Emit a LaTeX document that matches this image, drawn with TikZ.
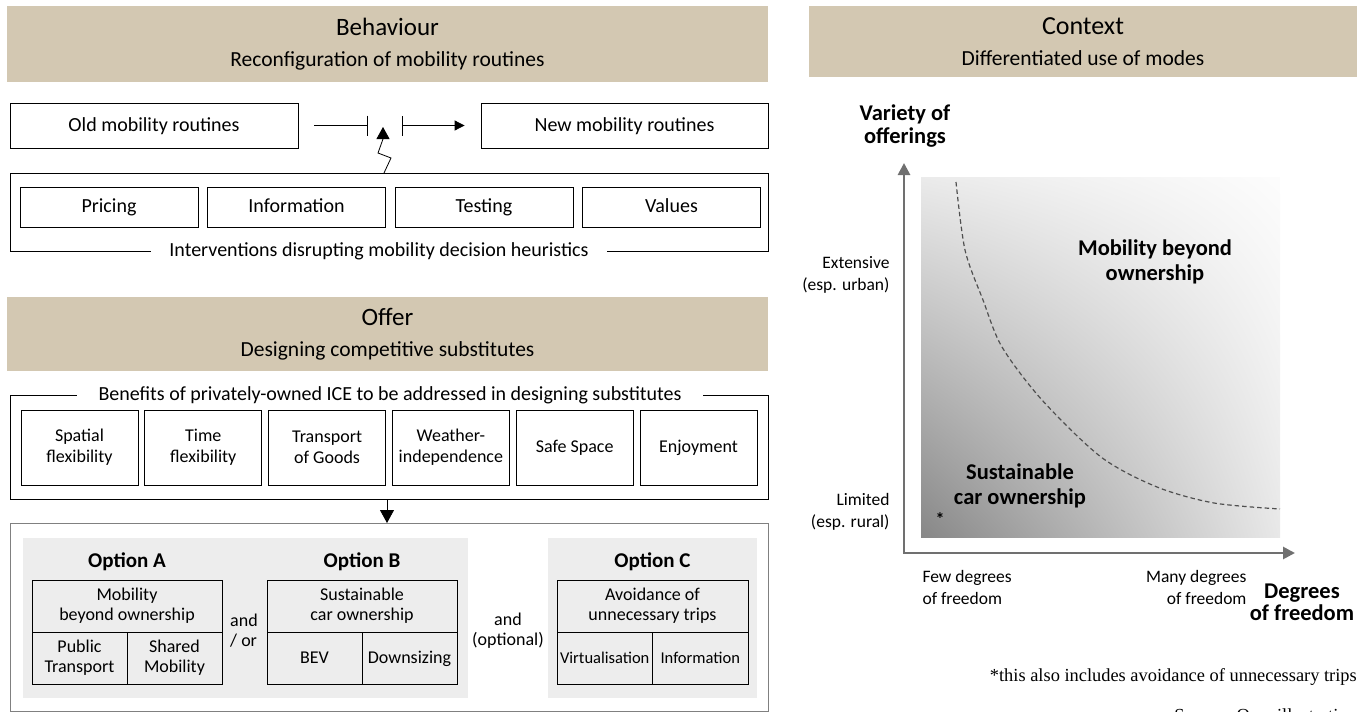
\documentclass[tikz,border=0pt]{standalone}
\usepackage{fontspec}
\setmainfont{Carlito}
\newfontfamily\notefont{Liberation Serif}
\usepackage{xcolor}
\usepackage{tikz}
\usetikzlibrary{calc}
\usetikzlibrary{arrows.meta,positioning,shadings}

\definecolor{headbeige}{HTML}{D3C8B2}
\definecolor{optgray}{HTML}{EDEDED}
\definecolor{axisgray}{HTML}{707070}
\definecolor{curvegray}{HTML}{4F4F4F}

\begin{document}
\begin{tikzpicture}[x=1pt,y=-1pt,
    headbox/.style={fill=headbeige,inner sep=0pt,align=center,font=\fontsize{21.5}{31}\selectfont},
    box/.style={draw,line width=0.8pt,inner sep=0pt,align=center,font=\fontsize{20}{23}\selectfont},
    oneline/.style={text height=13pt,text depth=2pt},
    benefit/.style={box,minimum width=117pt,minimum height=75pt,font=\fontsize{18}{21}\selectfont},
    cell/.style={box,minimum height=52pt,font=\fontsize{18}{20}\selectfont},
    panel/.style={fill=optgray,inner sep=0pt},
    gaplabel/.style={fill=white,inner ysep=2pt,font=\fontsize{20}{23}\selectfont},
    opttitle/.style={font=\bfseries\fontsize{21}{24}\selectfont},
    axislabel/.style={align=right,font=\fontsize{17.5}{22}\selectfont},
    zonelabel/.style={align=center,font=\bfseries\fontsize{22.5}{25}\selectfont},
    axisline/.style={axisgray,line width=2.7pt,{Triangle[length=12pt,width=12pt]}-{Triangle[length=12pt,width=12pt]}}
]
\useasboundingbox (0,0) rectangle (1369,712);

% Behaviour
\node[headbox,minimum width=761pt,minimum height=76pt] (behav) at (387.5,44)
    {{\fontsize{25}{31}\selectfont Behaviour}\\Reconfiguration of mobility routines};
\node[box,oneline,minimum width=288pt,minimum height=45pt] (old) at (154,125.5) {Old mobility routines};
\node[box,oneline,minimum width=287pt,minimum height=45pt] (new) at (624.5,125.5) {New mobility routines};
\coordinate (stopL) at (368,125.5);
\coordinate (stopR) at (402,125.5);
\draw[line width=0.8pt,-{Bar[width=20pt]}] ([xshift=16pt]old.east) -- (stopL);
\draw[line width=0.8pt,{Bar[width=20pt]}-{Triangle[length=10pt,width=10pt]}] (stopR) -- ([xshift=-16pt]new.west);

\node[box,minimum width=758pt,minimum height=78pt] (interv) at (389,212) {};
\node[gaplabel,inner xsep=18pt] (intlbl) at (379,251) {Interventions disrupting mobility decision heuristics};
\foreach \lbl [count=\i] in {Pricing,Information,Testing,Values} {
    \node[box,oneline,minimum width=178pt,minimum height=40pt] (int\i) at ({109+187.5*(\i-1)},207) {\lbl};
}
\coordinate (zig) at (384,173);
\draw[line width=0.8pt,-{Triangle[length=12pt,width=13pt]}] (zig) -- (391,158) -- (378,153) -- (383,139) -- (383,127);

% Offer
\node[headbox,minimum width=761pt,minimum height=74pt] (offer) at (387.5,334)
    {{\fontsize{25}{31}\selectfont Offer}\\Designing competitive substitutes};
\node[box,minimum width=758pt,minimum height=104pt] (benef) at (389,447) {};
\node[gaplabel,inner xsep=22pt] (benlbl) at (390,395)
    {Benefits of privately-owned ICE to be addressed in designing substitutes};
\foreach \lbl [count=\i] in {{Spatial\\flexibility},{Time\\flexibility},{Transport\\of Goods},
        {Weather-\\independence},{Safe Space},{Enjoyment}} {
    \node[benefit] (ben\i) at ({79.5+123.8*(\i-1)},447.5) {\lbl};
}

% Options
\node[draw=black!50,line width=0.8pt,minimum width=758pt,minimum height=188pt] (opts) at (389,617) {};
\draw[line width=0.8pt,-{Triangle[length=13pt,width=14pt]}] (387,499) -- (387,523);
\node[panel,minimum width=445pt,minimum height=160pt] (panelAB) at (245.5,618) {};
\node[panel,minimum width=209pt,minimum height=160pt] (panelC) at (652.5,618) {};

\node[opttitle] (optA) at (127,562) {Option A};
\node[cell,minimum width=190pt] (aTop) at (127,606) {Mobility\\beyond ownership};
\node[cell,minimum width=95pt] (aL) at (79.5,658) {Public\\Transport};
\node[cell,minimum width=95pt] (aR) at (174.5,658) {Shared\\Mobility};

\node[opttitle] (optB) at (362,562) {Option B};
\node[cell,minimum width=190pt] (bTop) at (362,606) {Sustainable\\car ownership};
\node[cell,oneline,minimum width=95pt] (bL) at (314.5,658) {BEV};
\node[cell,oneline,minimum width=95pt] (bR) at (409.5,658) {Downsizing};

\node[opttitle] (optC) at (652.5,562) {Option C};
\node[cell,minimum width=191pt] (cTop) at (652.5,606) {Avoidance of\\unnecessary trips};
\node[cell,oneline,minimum width=95.5pt,font=\fontsize{16.5}{20}\selectfont] (cL) at (604.75,658) {Virtualisation};
\node[cell,oneline,minimum width=95.5pt,font=\fontsize{16.5}{20}\selectfont] (cR) at (700.25,658) {Information};

\node[align=left,font=\fontsize{18}{20}\selectfont] (andor) at (244,631) {and\\/ or};
\node[align=center,font=\fontsize{18}{20}\selectfont] (andopt) at (508,631) {and\\(optional)};

% Context
\node[headbox,minimum width=548pt,minimum height=71pt] (context) at (1083,41.5)
    {{\fontsize{26}{28}\selectfont Context}\\Differentiated use of modes};

\shade[lower left=black!47,lower right=black!9,upper left=black!8,upper right=black!1]
    (921,177) rectangle (1280,537);
\draw[curvegray,line width=1.2pt,dash pattern=on 4.5pt off 3pt] plot[smooth] coordinates
    {(956,182) (965,250) (983,300) (1002,347) (1042,400) (1101,457) (1157,487) (1214,503) (1280,509)};

\coordinate (orig) at (904,553);
\coordinate (ytop) at (904,163);
\coordinate (xend) at (1295,553);
\draw[axisline] (ytop) -- (orig) -- (xend);

\node[zonelabel,font=\bfseries\fontsize{22.5}{23}\selectfont] (yname) at (905,126) {Variety of\\offerings};
\node[zonelabel,font=\bfseries\fontsize{22.5}{22}\selectfont] (xname) at (1302,602) {Degrees\\of freedom};
\node[axislabel,anchor=east] (ext) at (893,275) {Extensive\\(esp. urban)};
\node[axislabel,anchor=east] (lim) at (893,512) {Limited\\(esp. rural)};
\node[axislabel,align=left,anchor=west] (few) at (919,587) {Few degrees\\of freedom};
\node[axislabel,anchor=east] (many) at (1250,587) {Many degrees\\of freedom};

\node[zonelabel] (beyond) at (1155,262) {Mobility beyond\\ownership};
\node[zonelabel] (sustain) at (1020,486) {Sustainable\\car ownership};
\node[font=\bfseries\fontsize{18}{20}\selectfont] (star) at (940,519) {*};

\node[anchor=east,inner sep=0pt,font=\notefont\fontsize{18.4}{20}\selectfont] (note) at (1357,677)
    {*this also includes avoidance of unnecessary trips};
\node[anchor=base east,inner sep=0pt,font=\notefont\fontsize{18.4}{20}\selectfont] (source) at (1357,721)
    {Source: Own illustration};
\end{tikzpicture}
\end{document}
